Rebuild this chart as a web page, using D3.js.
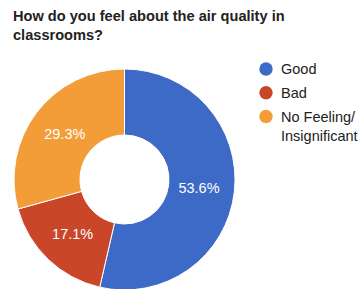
<!DOCTYPE html>
<html>
<head>
<meta charset="utf-8">
<script src="https://cdn.jsdelivr.net/npm/d3@7"></script>
<style>
  body { margin: 0; background: #fff; }
  svg { font-family: Arial, "Liberation Sans", sans-serif; }
</style>
</head>
<body>
<div id="chart"></div>
<script>
// data
var titleLines = ["How do you feel about the air quality in", "classrooms?"];
var labels = ["Good", "Bad", "No Feeling/ Insignificant"];
var legendLines = [["Good"], ["Bad"], ["No Feeling/", "Insignificant"]];
var values = [53.6, 17.1, 29.3];
var colors = ["#3d69c7", "#ca4629", "#f29d38"];

var width = 359, height = 289;
var cx = 124.5, cy = 179.5, outerR = 110.5, innerR = 44.5, labelR = 75;

var svg = d3.select("#chart")
  .append("svg")
    .attr("width", width)
    .attr("height", height);

// title
svg.append("g").selectAll("text")
  .data(titleLines)
  .enter().append("text")
    .attr("x", 13)
    .attr("y", function(d, i) { return 21 + i * 19; })
    .attr("font-size", "14.6px")
    .attr("font-weight", "bold")
    .attr("fill", "#222")
    .text(function(d) { return d; });

var pie = d3.pie().sort(null).value(function(d) { return d; });
var arc = d3.arc().innerRadius(innerR).outerRadius(outerR);
var labelArc = d3.arc().innerRadius(labelR).outerRadius(labelR);

var g = svg.append("g")
  .attr("transform", "translate(" + cx + "," + cy + ")");

var arcs = pie(values);

g.selectAll("path")
  .data(arcs)
  .enter().append("path")
    .attr("d", arc)
    .attr("fill", function(d, i) { return colors[i]; })
    .attr("stroke", "#fff")
    .attr("stroke-width", 1);

g.selectAll("text.pct")
  .data(arcs)
  .enter().append("text")
    .attr("class", "pct")
    .attr("transform", function(d) { return "translate(" + labelArc.centroid(d) + ")"; })
    .attr("text-anchor", "middle")
    .attr("dy", "0.36em")
    .attr("font-size", "14.5px")
    .attr("fill", "#fff")
    .text(function(d) { return d.data.toFixed(1) + "%"; });

// legend
var legend = svg.append("g").selectAll("g")
  .data(legendLines)
  .enter().append("g")
    .attr("transform", function(d, i) { return "translate(266," + (69 + i * 23.7) + ")"; });

legend.append("circle")
  .attr("r", 6.7)
  .attr("fill", function(d, i) { return colors[i]; });

legend.each(function(lines) {
  d3.select(this).selectAll("text")
    .data(lines)
    .enter().append("text")
      .attr("x", 15)
      .attr("y", function(d, j) { return 5.3 + j * 19.6; })
      .attr("font-size", "14.5px")
      .attr("fill", "#222")
      .text(function(d) { return d; });
});
</script>
</body>
</html>
